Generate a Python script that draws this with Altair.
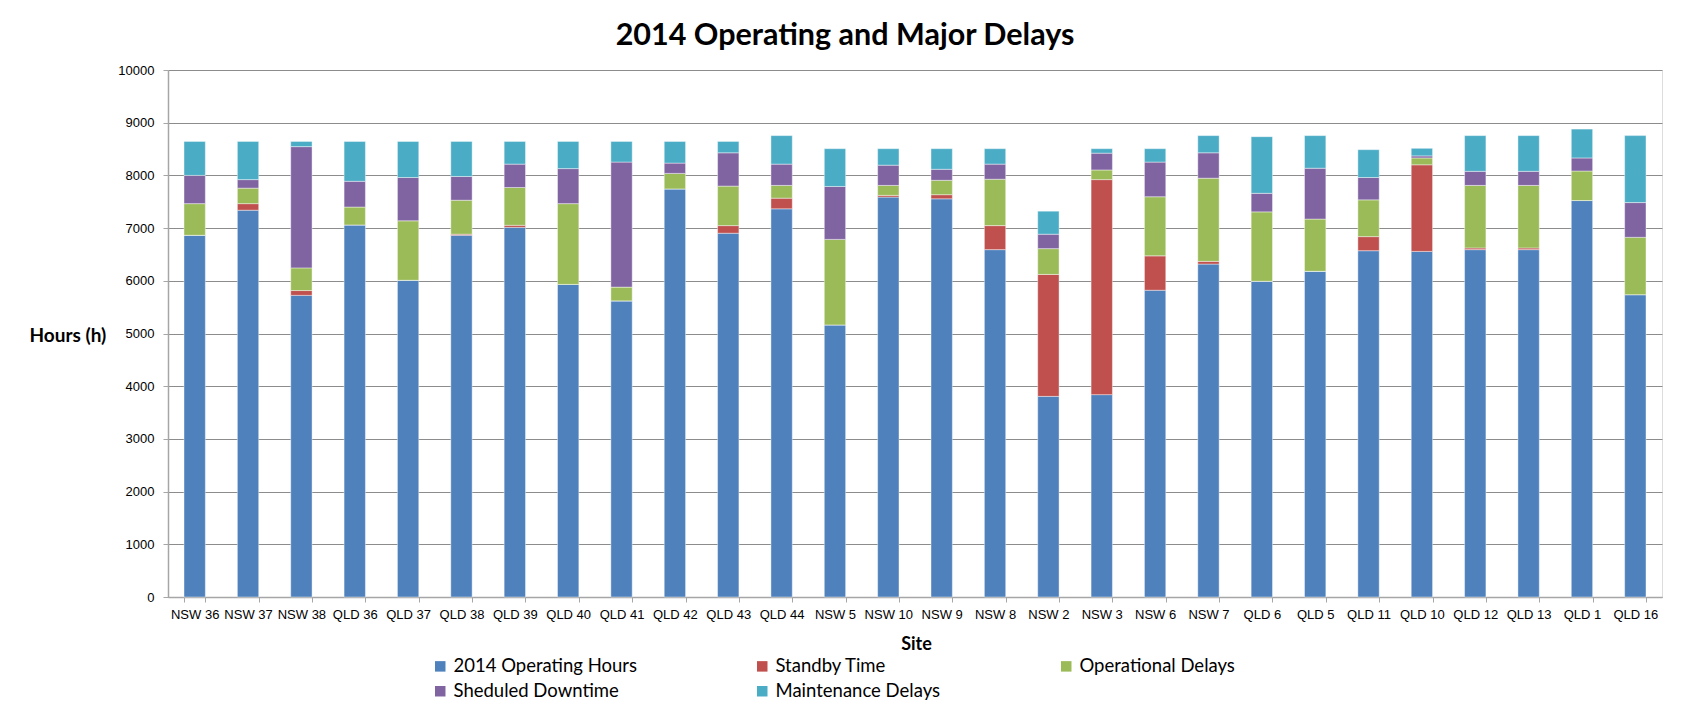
import altair as alt
import pandas as pd

sites = ["NSW 36", "NSW 37", "NSW 38", "QLD 36", "QLD 37", "QLD 38", "QLD 39", "QLD 40",
         "QLD 41", "QLD 42", "QLD 43", "QLD 44", "NSW 5", "NSW 10", "NSW 9", "NSW 8",
         "NSW 2", "NSW 3", "NSW 6", "NSW 7", "QLD 6", "QLD 5", "QLD 11", "QLD 10",
         "QLD 12", "QLD 13", "QLD 1", "QLD 16"]

operating_hours = [6864, 7340, 5724, 7060, 6010, 6864, 7014, 5932,
                   5619, 7744, 6903, 7366, 5163, 7588, 7556, 6591,
                   3807, 3840, 5821, 6317, 5991, 6180, 6571, 6558,
                   6591, 6591, 7523, 5737]
standby_time = [0, 124, 91, 0, 0, 20, 39, 0,
                0, 0, 144, 202, 0, 33, 78, 456,
                2314, 4080, 652, 52, 0, 0, 267, 1643,
                32, 32, 0, 0]
operational_delays = [600, 294, 430, 339, 1128, 645, 717, 1532,
                      261, 294, 750, 242, 1623, 189, 273, 880,
                      489, 183, 1122, 1578, 1317, 991, 698, 130,
                      1187, 1187, 560, 1088]
scheduled_downtime = [536, 162, 2301, 489, 822, 450, 444, 665,
                      2373, 195, 632, 404, 1004, 384, 209, 287,
                      274, 319, 658, 482, 352, 965, 424, 39,
                      267, 267, 248, 659]
maintenance_delays = [644, 724, 98, 756, 684, 665, 430, 515,
                      391, 411, 215, 541, 717, 313, 391, 293,
                      437, 85, 254, 326, 1075, 619, 528, 144,
                      678, 678, 548, 1271]

series_names = ["2014 Operating Hours", "Standby Time", "Operational Delays",
                "Sheduled Downtime", "Maintenance Delays"]
series_colors = ["#4F81BD", "#C0504D", "#9BBB59", "#8064A2", "#4BACC6"]
y_ticks = [0, 1000, 2000, 3000, 4000, 5000, 6000, 7000, 8000, 9000, 10000]

all_series = [operating_hours, standby_time, operational_delays,
              scheduled_downtime, maintenance_delays]
rows = []
for si, (name, vals) in enumerate(zip(series_names, all_series)):
    for site, v in zip(sites, vals):
        rows.append({"site": site, "series": name, "value": v, "order": si})
df = pd.DataFrame(rows)

bars = alt.Chart(df).mark_bar(stroke="#ffffff", strokeWidth=0.6, strokeOpacity=0.7).encode(
    x=alt.X("site:N", sort=sites,
            scale=alt.Scale(paddingInner=0.6, paddingOuter=0.3),
            axis=alt.Axis(title="Site", labelAngle=0, tickBand="extent", grid=False,
                          ticks=True, tickSize=5, tickColor="#a6a6a6",
                          domainColor="#a6a6a6", domainWidth=1.5,
                          labelFont="Liberation Sans", labelFontSize=13, labelColor="#000000",
                          labelPadding=6,
                          titleFont="Lato", titleFontSize=18, titleFontWeight="bold",
                          titleColor="#000000", titlePadding=14, titleX=748,
                          titleAnchor="start", titleAlign="center")),
    y=alt.Y("value:Q", stack="zero",
            scale=alt.Scale(domain=[0, 10000], nice=False),
            axis=alt.Axis(values=y_ticks, format="d", grid=True, gridColor="#8c8c8c",
                          gridWidth=1, ticks=True, tickSize=5, tickColor="#a6a6a6",
                          domainColor="#a6a6a6", domainWidth=1.5,
                          labelFont="Liberation Sans", labelFontSize=13, labelColor="#000000",
                          labelPadding=9,
                          title="Hours (h)", titleAngle=0, titleFont="Lato",
                          titleFontSize=19, titleFontWeight="bold", titleColor="#000000",
                          titleAlign="left", titleBaseline="middle",
                          titleX=-139, titleY=265)),
    color=alt.Color("series:N", sort=series_names,
                    scale=alt.Scale(domain=series_names, range=series_colors),
                    legend=alt.Legend(title=None, orient="none", legendX=263, legendY=587,
                                      direction="horizontal", columns=3,
                                      symbolType="square", symbolSize=110,
                                      symbolStrokeWidth=0, labelFont="Lato",
                                      labelFontSize=18.5, labelColor="#000000", labelLimit=0,
                                      columnPadding=116, rowPadding=6, labelOffset=4)),
    order=alt.Order("order:Q", sort="ascending"),
)

chart = bars.properties(
    width=1494,
    height=527,
    padding={"left": 21, "top": 12, "right": 5, "bottom": 5},
    title=alt.TitleParams("2014 Operating and Major Delays", font="Lato", fontSize=30.5,
                          fontWeight="bold", color="#000000", anchor="middle", dx=-70,
                          offset=13),
).configure_view(stroke=None).configure(background="#ffffff")

chart.save("out.html", embed_options={"renderer": "svg", "actions": False})
